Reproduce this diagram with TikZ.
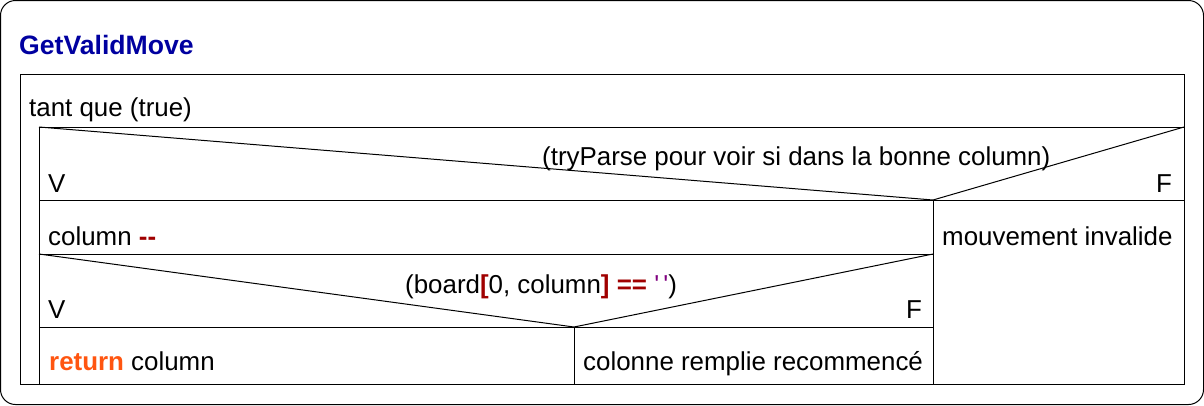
\documentclass[tikz,border=0pt]{standalone}
\usepackage{fontspec}
\setmainfont{Liberation Sans}
\usepackage{xcolor}
\usepackage{tikz}

\definecolor{titleblue}{RGB}{0,0,160}
\definecolor{opred}{RGB}{160,0,0}
\definecolor{strpurple}{RGB}{128,0,128}
\definecolor{kworange}{RGB}{255,85,16}

\newcommand{\opsym}[1]{\textcolor{opred}{\textbf{#1}}}
\newcommand{\kwd}[1]{\textcolor{kworange}{\textbf{#1}}}

\begin{document}
\begin{tikzpicture}[
    x=1pt, y=-1pt,
    font=\fontsize{25.9}{30}\selectfont,
    cell/.style={line width=1pt, draw=black},
    txt/.style={anchor=base west, inner sep=0pt}
]
\useasboundingbox (0,0) rectangle (1204,405);

% Outer frame
\draw[line width=1pt, rounded corners=15pt] (0.5,0.5) rectangle (1203.5,404.5);

% Title
\node[txt, text=titleblue, font=\fontsize{26.6}{30}\selectfont\bfseries] (title) at (19,54) {GetValidMove};

% Loop block
\draw[cell] (20,74) rectangle (1184,384);
\node[txt] (loop) at (29,116) {tant que (true)};

% First condition
\coordinate (c1tl) at (39,127);
\coordinate (c1tr) at (1184,127);
\coordinate (c1tip) at (933,200);
\draw[cell] (c1tl) rectangle (1184,384);
\draw[cell] (39,200) -- (1184,200);
\draw[cell] (c1tl) -- (c1tip) -- (c1tr);
\node[txt] (cond1) at (542,165) {(tryParse pour voir si dans la bonne column)};
\node[txt] (v1) at (48,192) {V};
\node[txt] (f1) at (1156,192) {F};

% Right branch
\draw[cell] (c1tip) -- (933,384);
\node[txt] (invalid) at (942,245) {mouvement invalide};

% Left branch
\node[txt] (dec) at (48,245) {column \opsym{-{}-}};
\draw[cell] (39,254) -- (933,254);

% Second condition
\coordinate (c2tl) at (39,254);
\coordinate (c2tr) at (933,254);
\coordinate (c2tip) at (574,327);
\draw[cell] (c2tl) -- (c2tip) -- (c2tr);
\draw[cell] (39,327) -- (933,327);
\node[txt] (cond2) at (405,293) {(board\opsym{[}0, column\opsym{]} \opsym{==} \textcolor{strpurple}{\textquotesingle\,\textquotesingle})};
\node[txt] (v2) at (48,318) {V};
\node[txt] (f2) at (906,318) {F};

% Bottom cells
\draw[cell] (c2tip) -- (574,384);
\node[txt] (ret) at (49,370) {\kwd{return} column};
\node[txt] (refill) at (583,370) {colonne remplie recommencé};

\end{tikzpicture}
\end{document}
